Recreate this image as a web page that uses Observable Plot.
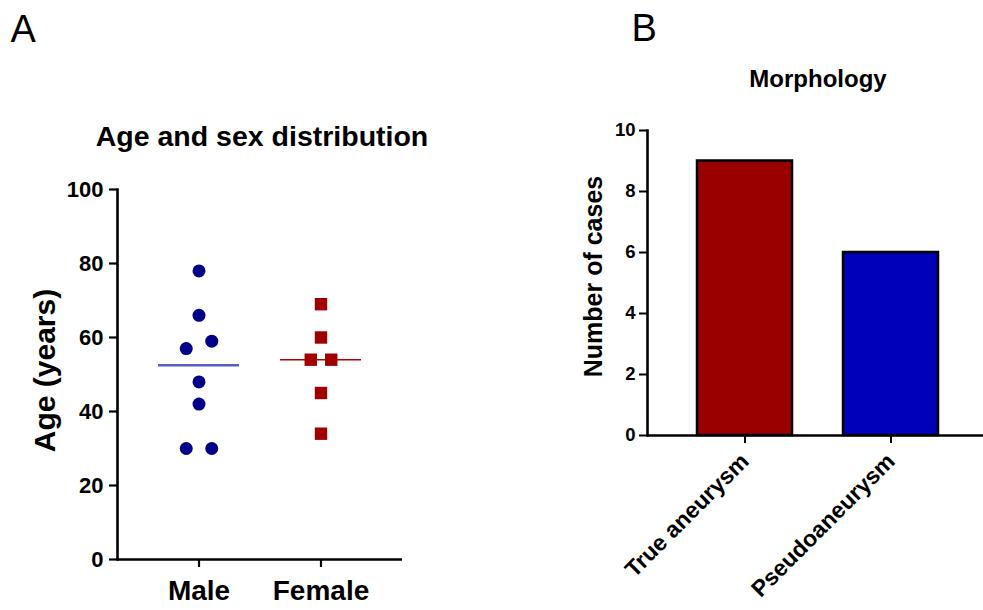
<!DOCTYPE html>
<html><head><meta charset="utf-8">
<script src="https://cdn.jsdelivr.net/npm/d3@7"></script>
<script src="https://cdn.jsdelivr.net/npm/@observablehq/plot@0.6"></script>
<style>
html,body{margin:0;padding:0;background:#fff;}
#wrap{position:relative;width:983px;height:610px;overflow:hidden;font-family:"Liberation Sans",Arial,sans-serif;}
#wrap svg{position:absolute;top:0;}
</style></head><body><div id="wrap"></div>
<script>
// ---- Data ----
const sexes = ["Male", "Female"];
const maleAges = [78, 66, 59, 57, 48, 42, 30, 30];
const femaleAges = [69, 60, 54, 54, 45, 34];
const ageTicks = [0, 20, 40, 60, 80, 100];

const morphTypes = ["True aneurysm", "Pseudoaneurysm"];
const morphCounts = [9, 6];
const caseTicks = [0, 2, 4, 6, 8, 10];

// ---- Styles ----
const FONT = "'Liberation Sans', Arial, sans-serif";
const maleColor = "#000088", femaleColor = "#a00000";
const maleMedianColor = "#5a5ec4", femaleMedianColor = "#b00000";
const barColors = ["#990000", "#0000bb"];

// Side-by-side placement of nearly equal values (scatter dot-plot layout)
function clusterOffsets(values, gap) {
  const idx = d3.range(values.length).sort((a, b) => values[a] - values[b]);
  const off = new Array(values.length).fill(0);
  let cluster = [idx[0]];
  const flush = () => { const k = cluster.length; cluster.forEach((j, i) => off[j] = i - (k - 1) / 2); };
  for (let n = 1; n < idx.length; n++) {
    if (values[idx[n]] - values[idx[n - 1]] < gap) cluster.push(idx[n]);
    else { flush(); cluster = [idx[n]]; }
  }
  flush();
  return off;
}

const groups = [
  {sex: sexes[0], ages: maleAges, color: maleColor, median: maleMedianColor, medianWidth: 2.5, symbol: "circle", r: 6.5, spacing: 25.5},
  {sex: sexes[1], ages: femaleAges, color: femaleColor, median: femaleMedianColor, medianWidth: 1.6, symbol: "square", r: 7.0, spacing: 20.5}
];

const marksA = [];
for (const g of groups) {
  const offs = clusterOffsets(g.ages, 3);
  const rows = g.ages.map((age, i) => ({sex: g.sex, age, off: offs[i]}));
  for (const [off, sub] of d3.group(rows, d => d.off)) {
    marksA.push(Plot.dot(sub, {x: "sex", y: "age", dx: off * g.spacing, r: g.r, symbol: g.symbol, fill: g.color, stroke: "none"}));
  }
  marksA.push(Plot.tickY([{sex: g.sex, m: d3.median(g.ages)}], {x: "sex", y: "m", stroke: g.median, strokeWidth: g.medianWidth}));
}

const W_A = 450;
const plotA = Plot.plot({
  width: W_A, height: 610,
  marginLeft: 117, marginRight: W_A - 402, marginTop: 189, marginBottom: 51,
  style: {fontFamily: FONT, background: "transparent", overflow: "visible", color: "#000"},
  x: {domain: sexes, type: "band", padding: 0.335},
  y: {domain: [0, 100]},
  marks: [
    Plot.axisY({ticks: ageTicks, tickSize: 8, tickPadding: 6, fontSize: 22, fontWeight: "bold", strokeWidth: 2.2, label: null}),
    Plot.axisX({tickSize: 8, tickPadding: 13, fontSize: 28, fontWeight: "bold", strokeWidth: 2.2, label: null}),
    Plot.frame({anchor: "left", strokeWidth: 2.6}),
    Plot.ruleY([0], {strokeWidth: 2.6}),
    ...marksA,
    Plot.text(["Age and sex distribution"], {frameAnchor: "top", textAnchor: "middle", lineAnchor: "middle", dx: 2, dy: -53, fontSize: 28.5, fontWeight: "bold"}),
    Plot.text(["Age (years)"], {frameAnchor: "left", textAnchor: "middle", lineAnchor: "middle", rotate: -90, dx: -72, dy: -4, fontSize: 30, fontWeight: "bold"}),
    Plot.text(["A"], {frameAnchor: "top-left", textAnchor: "start", lineAnchor: "middle", dx: -107, dy: -160, fontSize: 38})
  ]
});
plotA.style.left = "0px";

const morphData = morphTypes.map((t, i) => ({type: t, count: morphCounts[i]}));
const LEFT_B = 490, W_B = 983 - LEFT_B;
const plotB = Plot.plot({
  width: W_B, height: 610,
  marginLeft: 647 - LEFT_B, marginRight: 0, marginTop: 130, marginBottom: 175,
  style: {fontFamily: FONT, background: "transparent", overflow: "visible", color: "#000"},
  x: {domain: morphTypes, type: "band", paddingInner: 0.35, paddingOuter: 0.32, align: 0.53},
  y: {domain: [0, 10]},
  color: {domain: morphTypes, range: barColors},
  marks: [
    Plot.barY(morphData, {x: "type", y: "count", fill: "type", stroke: "#000", strokeWidth: 2.5}),
    Plot.axisY({ticks: caseTicks, tickSize: 8, tickPadding: 4, fontSize: 18.5, fontWeight: "bold", strokeWidth: 2, label: null}),
    Plot.axisX({tickSize: 8, tickPadding: 14, tickRotate: -45, fontSize: 23, fontWeight: "bold", strokeWidth: 2, label: null}),
    Plot.frame({anchor: "left", strokeWidth: 2.6}),
    Plot.ruleY([0], {strokeWidth: 2.6}),
    Plot.text(["Morphology"], {frameAnchor: "top", textAnchor: "middle", lineAnchor: "middle", dx: 2.5, dy: -51, fontSize: 24, fontWeight: "bold"}),
    Plot.text(["Number of cases"], {frameAnchor: "left", textAnchor: "middle", lineAnchor: "middle", rotate: -90, dx: -54, dy: -6.5, fontSize: 25, fontWeight: "bold"}),
    Plot.text(["B"], {frameAnchor: "top-left", textAnchor: "start", lineAnchor: "middle", dx: -16, dy: -101.5, fontSize: 38})
  ]
});
plotB.style.left = LEFT_B + "px";

const wrap = document.getElementById("wrap");
wrap.appendChild(plotA);
wrap.appendChild(plotB);
</script></body></html>
